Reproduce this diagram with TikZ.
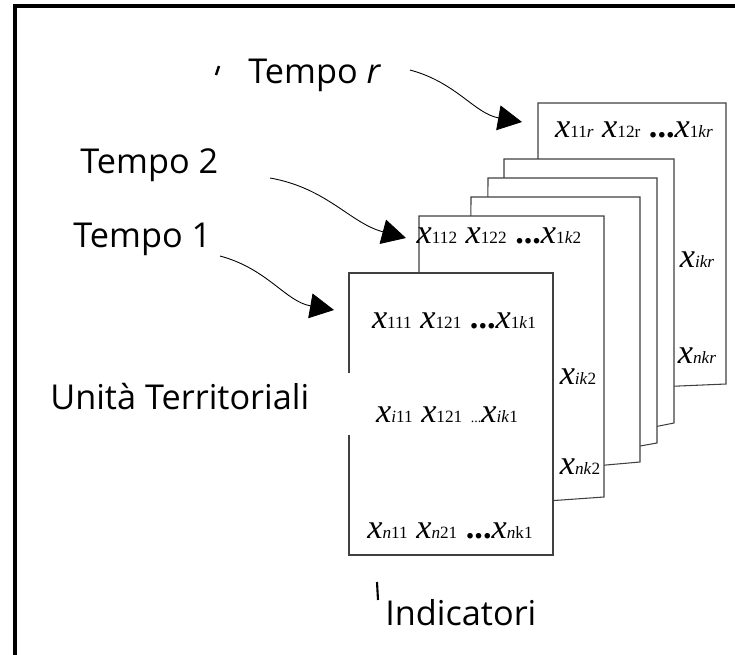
\documentclass[tikz,border=0pt]{standalone}
\usepackage{fontspec}
\newfontfamily\comic{Open Sans}
\newfontfamily\tnr{Liberation Serif}
\usetikzlibrary{positioning,arrows.meta}
\newcommand{\xv}[1]{\textit{x}{\fontsize{9.8}{10}\selectfont #1}}

\begin{document}
\begin{tikzpicture}[x=0.02cm,y=-0.02cm,
    sheet/.style={draw=black!75,fill=white,line width=0.6pt},
    tempotxt/.style={font=\comic\fontsize{19.5}{24}\selectfont,inner sep=0pt},
    cell/.style={font=\tnr\fontsize{19.5}{22}\selectfont,inner sep=0pt},
    tempo/.style={-{Triangle[length=0.48cm,width=0.5cm]},line width=0.5pt}
    ]
    \useasboundingbox (0,0) rectangle (735,654);
    \draw[line width=1.8pt] (15,660) -- (15,6) -- (740,6);

    % fogli, dal tempo r al tempo 1
    \filldraw[sheet] (538,103) -- (726,103) -- (726,384) -- (538,392) -- cycle;
    \filldraw[sheet] (504,159) -- (674,159) -- (674,423) -- (504,457) -- cycle;
    \filldraw[sheet] (488,178) -- (657,178) -- (657,443) -- (487,473) -- cycle;
    \filldraw[sheet] (471,197) -- (640,197) -- (640,462) -- (470,477) -- cycle;
    \filldraw[sheet] (419,216) -- (604,216) -- (604,497) -- (419,510) -- cycle;
    \fill[white] (349,273) rectangle (553,555);
    \draw[sheet] (349,373) -- (349,273) -- (553,273) -- (553,555) -- (349,555) -- (349,435);

    \node[cell] (r1) at (634,130) {\xv{11\textit{r}} \xv{12r} \textbf{...}\xv{1\textit{kr}}};
    \node[cell] (ri) at (697,260) {\xv{\textit{ikr}}};
    \node[cell] (rn) at (697,356) {\xv{\textit{nkr}}};
    \node[cell] (b1) at (499,236) {\xv{112} \xv{122} \textbf{...}\xv{1\textit{k}2}};
    \node[cell] (bi) at (578,377) {\xv{\textit{ik}2}};
    \node[cell] (bn) at (580,467) {\xv{\textit{nk}2}};
    \node[cell] (a1) at (454,321) {\xv{111} \xv{121} \textbf{...}\xv{1\textit{k}1}};
    \node[cell] (ai) at (447,415) {\xv{\textit{i}11} \xv{121} {\footnotesize ...}\xv{\textit{ik}1}};
    \node[cell] (an) at (450,531) {\xv{\textit{n}11} \xv{\textit{n}21} \textbf{...}\xv{\textit{n}k1}};

    \node[tempotxt,anchor=base west] (Tr) at (248,83) {Tempo \textit{r}};
    \node[tempotxt,anchor=base west] (T2) at (80,173) {Tempo 2};
    \node[tempotxt,anchor=base west] (T1) at (73,247) {Tempo 1};
    \node[tempotxt,anchor=base west] (UT) at (50,409) {Unità Territoriali};
    \node[tempotxt,anchor=base west] (Ind) at (385,625) {Indicatori};
    \draw[line width=1.4pt] (219,66) -- (216,75);
    \draw[line width=1.2pt] (377,582) -- (378,600);

    \coordinate (sr) at (410,70);
    \coordinate (er) at (522,122);
    \coordinate (s2) at (270,178);
    \coordinate (e2) at (406,238);
    \coordinate (s1) at (220,256);
    \coordinate (e1) at (334,310);
    \draw[tempo] (sr) to[out=-15,in=170] (er);
    \draw[tempo] (s2) to[out=-10,in=165] (e2);
    \draw[tempo] (s1) to[out=-15,in=170] (e1);
\end{tikzpicture}
\end{document}
